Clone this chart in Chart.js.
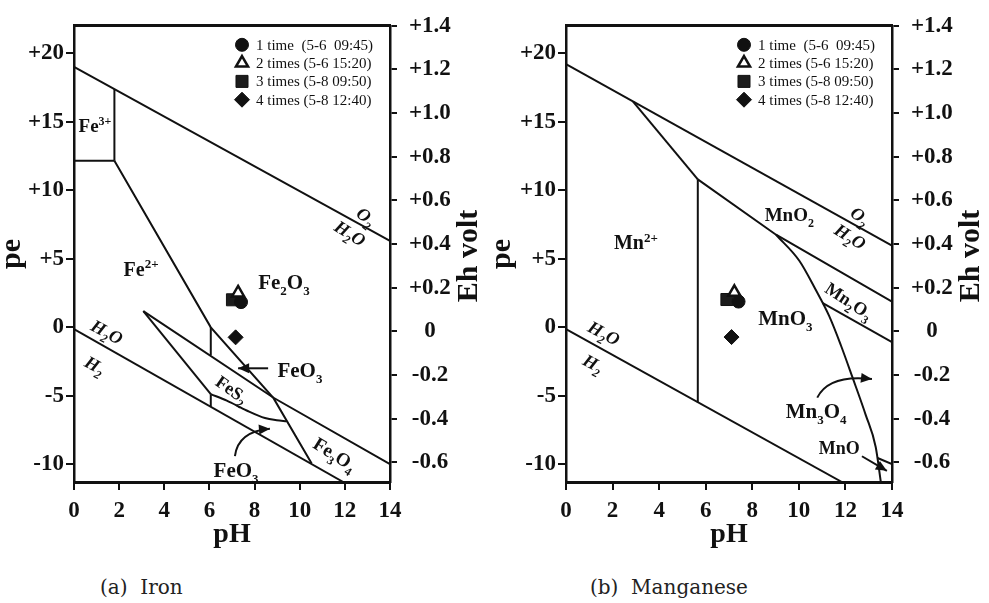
<!DOCTYPE html>
<html><head><meta charset="utf-8">
<script src="https://cdn.jsdelivr.net/npm/chart.js@4.4.1/dist/chart.umd.min.js"></script>
<style>
html,body{margin:0;padding:0;background:#fff;}
#wrap{position:relative;width:989px;height:603px;overflow:hidden;background:#fff;}
canvas{position:absolute;top:0;}
#c1{left:0;} #c2{left:490px;}
.cap{position:absolute;top:575px;font-family:'DejaVu Serif',serif;font-size:20px;color:#222;white-space:pre;line-height:24px;}
</style></head><body>
<div id="wrap">
<canvas id="c1" width="490" height="560"></canvas>
<canvas id="c2" width="499" height="560"></canvas>
<div class="cap" style="left:100px">(a)  Iron</div>
<div class="cap" style="left:590px">(b)  Manganese</div>
</div>
<script>
// ---------- axis ticks ----------
const pHTicks = [0, 2, 4, 6, 8, 10, 12, 14];
const peTicks = [-10, -5, 0, 5, 10, 15, 20];
const peTickLabels = ['-10', '-5', '0', '+5', '+10', '+15', '+20'];
const ehTicks = [-0.6, -0.4, -0.2, 0, 0.2, 0.4, 0.6, 0.8, 1.0, 1.2, 1.4];
const ehTickLabels = ['-0.6', '-0.4', '-0.2', '0', '+0.2', '+0.4', '+0.6', '+0.8', '+1.0', '+1.2', '+1.4'];

// ---------- sampling events ----------
const sampleLabels = ['1 time  (5-6  09:45)', '2 times (5-6 15:20)', '3 times (5-8 09:50)', '4 times (5-8 12:40)'];
const feSamplePH = [7.40, 7.27, 7.02, 7.16];
const feSamplePE = [1.83, 2.50, 2.00, -0.74];
const mnSamplePH = [7.41, 7.23, 6.91, 7.11];
const mnSamplePE = [1.87, 2.55, 2.02, -0.72];

// ---------- iron stability boundaries [pH, pe] ----------
const feO2H2O = [[0, 19.0], [14, 6.3]];
const feH2OH2 = [[0, -0.14], [11.93, -11.3]];
const feFe3Vert = [[1.79, 17.38], [1.79, 12.15]];
const feFe3Horz = [[0, 12.15], [1.79, 12.15]];
const feFe2Bound = [[1.79, 12.15], [6.06, -0.01], [8.84, -5.18], [10.53, -9.95]];
const feVertTop = [[6.06, -0.01], [6.06, -2.05]];
const feVertBot = [[6.06, -4.89], [6.06, -5.80]];
const feWedgeUpper = [[3.07, 1.17], [8.84, -5.15], [14, -10.0]];
const feWedgeLower = [[3.07, 1.17], [6.06, -4.89]];
const feFeS2Curve = [[6.06, -4.89], [6.77, -5.36], [7.65, -6.08], [8.46, -6.63], [8.98, -6.79], [9.42, -6.86]];

// ---------- manganese stability boundaries [pH, pe] ----------
const mnO2H2O = [[0, 19.2], [14, 5.95]];
const mnH2OH2 = [[0, -0.14], [11.85, -11.3]];
const mnMn2Upper = [[2.88, 16.47], [5.66, 10.79]];
const mnMn2Vert = [[5.66, 10.79], [5.66, -5.5]];
const mnMnO2Lower = [[5.66, 10.79], [9.02, 6.75], [14, 1.87]];
const mnMnO3Curve = [[9.02, 6.75], [10.02, 4.85], [10.73, 2.71], [11.30, 0.82], [11.8, -1.3], [12.3, -3.65], [12.87, -6.4], [13.30, -8.75], [13.52, -11.3]];
const mnMn2O3Lower = [[11.01, 1.77], [14, -1.09]];
const mnMnOBound = [[13.38, -9.55], [14, -10.0]];

// ---------- region labels ----------
const feLabels = [
  {t: 'Fe^{3+}', x: 0.93, y: 14.7, s: 19},
  {t: 'Fe^{2+}', x: 2.97, y: 4.22, s: 20},
  {t: 'Fe_2O_3', x: 9.30, y: 3.29, s: 21},
  {t: 'O_2', x: 12.94, y: 8.07, s: 18, r: 38, it: true},
  {t: 'H_2O', x: 12.23, y: 6.85, s: 18, r: 32, it: true},
  {t: 'H_2O', x: 1.46, y: -0.35, s: 18, r: 28, it: true},
  {t: 'H_2', x: 0.93, y: -2.77, s: 18, r: 28, it: true},
  {t: 'FeS_2', x: 7.0, y: -4.56, s: 18, r: 35},
  {t: 'Fe_3O_4', x: 11.56, y: -9.27, s: 19, r: 32},
  {t: 'FeO_3', x: 10.01, y: -3.14, s: 21},
  {t: 'FeO_3', x: 7.18, y: -10.41, s: 21}
];
const feArrows = [
  {from: [8.6, -3.0], to: [7.27, -3.0]},
  {from: [7.13, -9.41], ctrl: [7.27, -7.6], to: [8.68, -7.41]}
];
const mnLabels = [
  {t: 'Mn^{2+}', x: 3.0, y: 6.18, s: 20},
  {t: 'MnO_2', x: 9.59, y: 8.18, s: 19},
  {t: 'O_2', x: 12.63, y: 8.1, s: 18, r: 38, it: true},
  {t: 'H_2O', x: 12.2, y: 6.61, s: 18, r: 32, it: true},
  {t: 'Mn_2O_3', x: 12.16, y: 1.91, s: 18, r: 33},
  {t: 'MnO_3', x: 9.42, y: 0.63, s: 21},
  {t: 'Mn_3O_4', x: 10.74, y: -6.14, s: 21},
  {t: 'MnO', x: 11.73, y: -8.84, s: 18},
  {t: 'H_2O', x: 1.63, y: -0.44, s: 18, r: 28, it: true},
  {t: 'H_2', x: 1.16, y: -2.65, s: 18, r: 28, it: true}
];
const mnArrows = [
  {from: [10.79, -5.14], ctrl: [11.3, -3.43], to: [13.14, -3.79]},
  {from: [12.71, -9.42], to: [13.78, -10.48]}
];

const PE_MIN = -11.3, PE_MAX = 22.0, EH_MIN = -0.69, EH_MAX = 1.4;
const INK = '#111';
const FONT = "'Liberation Serif','Times New Roman',serif";
const MARK = [
  {style: 'circle', r: 6.5, fill: INK, bw: 1, order: 0},
  {style: 'triangle', r: 7, fill: '#fff', bw: 2.5, order: -1},
  {style: 'rect', r: 8.5, fill: '#1c1c1c', bw: 1, order: 0},
  {style: 'rectRot', r: 7.5, fill: INK, bw: 1, order: 0}
];

function drawChem(ctx, str, cx, cy, size, rotDeg, italic) {
  const segs = [];
  let i = 0;
  while (i < str.length) {
    const c = str[i];
    if (c === '_' || c === '^') {
      let t;
      if (str[i + 1] === '{') { const j = str.indexOf('}', i); t = str.slice(i + 2, j); i = j + 1; }
      else { t = str[i + 1]; i += 2; }
      segs.push({t, k: c === '_' ? 'sub' : 'sup'});
    } else {
      let j = i;
      while (j < str.length && str[j] !== '_' && str[j] !== '^') j++;
      segs.push({t: str.slice(i, j), k: 'n'});
      i = j;
    }
  }
  const st = italic ? 'italic ' : '';
  const fontOf = k => st + 'bold ' + Math.round(k === 'n' ? size : size * 0.64) + 'px ' + FONT;
  let w = 0;
  segs.forEach(s => { ctx.font = fontOf(s.k); s.w = ctx.measureText(s.t).width; w += s.w; });
  ctx.save();
  ctx.translate(cx, cy);
  ctx.rotate((rotDeg || 0) * Math.PI / 180);
  ctx.fillStyle = INK;
  ctx.textBaseline = 'alphabetic';
  ctx.textAlign = 'left';
  let x = -w / 2;
  const base = size * 0.33;
  segs.forEach(s => {
    ctx.font = fontOf(s.k);
    const dy = s.k === 'sub' ? size * 0.28 : s.k === 'sup' ? -size * 0.38 : 0;
    ctx.fillText(s.t, x, base + dy);
    x += s.w;
  });
  ctx.restore();
}

function arrowHead(ctx, x, y, ang) {
  const L = 11, W = 5;
  ctx.beginPath();
  ctx.moveTo(x, y);
  ctx.lineTo(x - L * Math.cos(ang) + W * Math.sin(ang), y - L * Math.sin(ang) - W * Math.cos(ang));
  ctx.lineTo(x - L * Math.cos(ang) - W * Math.sin(ang), y - L * Math.sin(ang) + W * Math.cos(ang));
  ctx.closePath();
  ctx.fill();
}

function legendMarker(ctx, k, x, y) {
  const m = MARK[k];
  ctx.save();
  ctx.fillStyle = m.fill; ctx.strokeStyle = INK; ctx.lineWidth = m.bw;
  ctx.beginPath();
  if (m.style === 'circle') ctx.arc(x, y, m.r, 0, Math.PI * 2);
  else if (m.style === 'triangle') {
    ctx.moveTo(x, y - m.r); ctx.lineTo(x + 0.866 * m.r, y + 0.5 * m.r); ctx.lineTo(x - 0.866 * m.r, y + 0.5 * m.r); ctx.closePath();
  } else if (m.style === 'rect') {
    const h = m.r * Math.SQRT1_2; ctx.rect(x - h, y - h, 2 * h, 2 * h);
  } else {
    ctx.moveTo(x - m.r, y); ctx.lineTo(x, y - m.r); ctx.lineTo(x + m.r, y); ctx.lineTo(x, y + m.r); ctx.closePath();
  }
  ctx.fill(); ctx.stroke();
  ctx.restore();
}

function annotPlugin(spec) {
  return {
    id: 'annot',
    afterDatasetsDraw(chart) {
      const ctx = chart.ctx, xs = chart.scales.x, ys = chart.scales.y, ca = chart.chartArea;
      const P = p => [xs.getPixelForValue(p[0]), ys.getPixelForValue(p[1])];
      ctx.save();
      spec.labels.forEach(l => drawChem(ctx, l.t, xs.getPixelForValue(l.x), ys.getPixelForValue(l.y), l.s, l.r, l.it));
      ctx.strokeStyle = INK; ctx.fillStyle = INK; ctx.lineWidth = 2;
      spec.arrows.forEach(a => {
        const f = P(a.from), t = P(a.to);
        ctx.beginPath();
        ctx.moveTo(f[0], f[1]);
        let ang;
        if (a.ctrl) {
          const c = P(a.ctrl);
          ctx.quadraticCurveTo(c[0], c[1], t[0], t[1]);
          ang = Math.atan2(t[1] - c[1], t[0] - c[0]);
        } else {
          ctx.lineTo(t[0], t[1]);
          ang = Math.atan2(t[1] - f[1], t[0] - f[0]);
        }
        ctx.stroke();
        arrowHead(ctx, t[0], t[1], ang);
      });
      // legend
      sampleLabels.forEach((lab, i) => {
        const y = ca.top + 19 + i * 18.3;
        legendMarker(ctx, i, ca.right - 148, y);
        ctx.fillStyle = INK;
        ctx.font = '15px ' + FONT;
        ctx.textAlign = 'left'; ctx.textBaseline = 'middle';
        ctx.fillText(lab, ca.right - 134, y + 1);
      });
      // right axis title
      ctx.save();
      ctx.translate(ca.right + 79, 256);
      ctx.rotate(-Math.PI / 2);
      ctx.font = 'bold 30px ' + FONT;
      ctx.textAlign = 'center'; ctx.textBaseline = 'middle'; ctx.fillStyle = INK;
      ctx.fillText('Eh volt', 0, 0);
      ctx.restore();
      ctx.restore();
    }
  };
}

function makeChart(id, spec) {
  const canvas = document.getElementById(id);
  const W = canvas.width;
  const lineSets = spec.lines.map(l => ({
    data: l.pts.map(p => ({x: p[0], y: p[1]})),
    showLine: true, borderColor: INK, borderWidth: 2, pointRadius: 0, pointHoverRadius: 0,
    tension: l.curve ? 0.4 : 0, cubicInterpolationMode: l.curve ? 'monotone' : 'default',
    order: 5, xAxisID: 'x', yAxisID: 'y'
  }));
  const sampleSets = sampleLabels.map((lab, i) => ({
    label: lab, data: [{x: spec.sx[i], y: spec.sy[i]}], showLine: false,
    pointStyle: MARK[i].style, pointRadius: MARK[i].r, pointHoverRadius: MARK[i].r,
    backgroundColor: MARK[i].fill, borderColor: INK, borderWidth: MARK[i].bw,
    order: MARK[i].order, xAxisID: 'x', yAxisID: 'y'
  }));
  const tickFont = {family: FONT, size: 23, weight: 'bold'};
  const grid = len => ({display: true, drawOnChartArea: false, drawTicks: true, tickLength: len, color: INK, lineWidth: 2});
  return new Chart(canvas, {
    type: 'scatter',
    data: {datasets: lineSets.concat(sampleSets)},
    options: {
      responsive: false, animation: false, devicePixelRatio: 1, events: [],
      layout: {padding: 0},
      plugins: {legend: {display: false}, tooltip: {enabled: false}},
      scales: {
        x: {
          type: 'linear', position: 'bottom', min: 0, max: 14,
          afterBuildTicks: s => { s.ticks = pHTicks.map(v => ({value: v})); },
          ticks: {font: tickFont, color: INK, padding: 7, maxRotation: 0, autoSkip: false},
          grid: grid(8), border: {display: true, color: INK, width: 3},
          title: {display: true, text: 'pH', color: INK, font: {family: FONT, size: 28, weight: 'bold'}, padding: {top: 0, bottom: 8}},
          afterFit: s => { s.height = 560 - 482; }
        },
        xTop: {
          type: 'linear', position: 'top', min: 0, max: 14,
          ticks: {display: false}, grid: {display: true, drawOnChartArea: false, drawTicks: false},
          border: {display: true, color: INK, width: 3},
          afterFit: s => { s.height = 15; }
        },
        y: {
          type: 'linear', position: 'left', min: PE_MIN, max: PE_MAX,
          afterBuildTicks: s => { s.ticks = peTicks.map(v => ({value: v})); },
          ticks: {font: tickFont, color: INK, padding: 2, autoSkip: false, callback: (v, i) => peTickLabels[i]},
          grid: grid(8), border: {display: true, color: INK, width: 2.5},
          title: {display: true, text: 'pe', color: INK, font: {family: FONT, size: 30, weight: 'bold', lineHeight: 0.8}, padding: 0},
          afterFit: s => { s.width = spec.left; }
        },
        yEh: {
          type: 'linear', position: 'right', min: EH_MIN, max: EH_MAX,
          afterBuildTicks: s => { s.ticks = ehTicks.map(v => ({value: v})); },
          ticks: {font: tickFont, color: INK, padding: 12, crossAlign: 'center', autoSkip: false, callback: (v, i) => ehTickLabels[i]},
          grid: grid(7), border: {display: true, color: INK, width: 2.5},
          afterFit: s => { s.width = W - spec.right; }
        }
      }
    },
    plugins: [annotPlugin(spec)]
  });
}

makeChart('c1', {
  left: 74, right: 390,
  sx: feSamplePH, sy: feSamplePE, labels: feLabels, arrows: feArrows,
  lines: [
    {pts: feO2H2O}, {pts: feH2OH2}, {pts: feFe3Vert}, {pts: feFe3Horz}, {pts: feFe2Bound},
    {pts: feVertTop}, {pts: feVertBot}, {pts: feWedgeUpper}, {pts: feWedgeLower}, {pts: feFeS2Curve, curve: true}
  ]
});
makeChart('c2', {
  left: 76, right: 402,
  sx: mnSamplePH, sy: mnSamplePE, labels: mnLabels, arrows: mnArrows,
  lines: [
    {pts: mnO2H2O}, {pts: mnH2OH2}, {pts: mnMn2Upper}, {pts: mnMn2Vert}, {pts: mnMnO2Lower},
    {pts: mnMnO3Curve, curve: true}, {pts: mnMn2O3Lower}, {pts: mnMnOBound}
  ]
});
</script>
</body></html>
